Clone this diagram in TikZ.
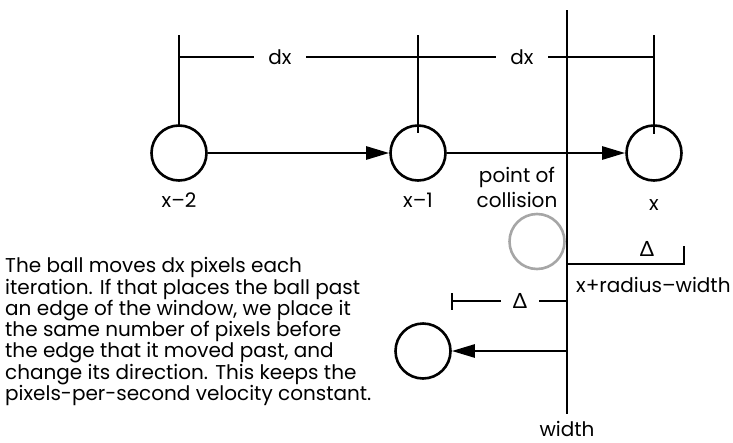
\documentclass[tikz,border=0pt]{standalone}
\usepackage{fontspec}
\setmainfont{Poppins}
\newfontfamily\deltafont{Lato}
\usetikzlibrary{arrows.meta}
\begin{document}
\begin{tikzpicture}[x=1pt,y=-1pt,
  ln/.style={line width=2.6pt},
  ball/.style={circle,draw,line width=2.6pt,minimum size=55pt,inner sep=0pt},
  gball/.style={circle,draw=black!35,line width=2.6pt,minimum size=55pt,inner sep=0pt},
  arr/.style={line width=2.6pt,-{Triangle[length=23pt,width=13pt]}},
  lbl/.style={font=\fontsize{20}{21.3}\selectfont,inner sep=0pt},
  gaplbl/.style={lbl,fill=white,inner xsep=14pt,inner ysep=3pt}]
\useasboundingbox (0,0) rectangle (733,442);
% balls
\node[ball] (b2) at (179,153) {};
\node[ball] (b1) at (418,153) {};
\node[ball] (b0) at (654,153) {};
\node[gball] (gc) at (537,241.5) {};
\node[ball] (bb) at (423,351) {};
% wall
\coordinate (wt) at (567,10);
\coordinate (wb) at (567,414);
\draw[ln] (wt) -- (wb);
% arrows
\draw[arr] (b2) -- (b1);
\draw[arr] (b1) -- (b0);
\coordinate (wr) at (567,351);
\draw[arr] (wr) -- (bb);
% top dimension
\coordinate (t2) at (179,35);
\coordinate (t1) at (418,35);
\coordinate (t0) at (654,35);
\coordinate (d2) at (179,57);
\coordinate (d0) at (654,57);
\draw[ln] (t2) -- ([yshift=-3pt]b2.north);
\draw[ln] (t1) -- ([yshift=-9pt]b1.north);
\draw[ln] (t0) -- ([yshift=-10pt]b0.north);
\draw[ln] (d2) -- (d0);
\node[gaplbl] (dx1) at (280,57) {dx};
\node[gaplbl] (dx2) at (522,57) {dx};
% labels under balls
\node[lbl,anchor=base] (l2) at (179,207) {x–2};
\node[lbl,anchor=base] (l1) at (418,207) {x–1};
\node[lbl,anchor=base] (l0) at (654,210) {x};
\node[lbl,align=center,font=\fontsize{20}{25}\selectfont,anchor=base] (poc) at (517,207) {point of\\collision};
% right delta dimension
\coordinate (r1) at (567,264);
\coordinate (r2) at (684,264);
\coordinate (r3) at (684,246);
\draw[ln] (r1) -- (r2) -- (r3);
\node[lbl,font=\fontsize{21}{21}\deltafont] (dr) at (647,249) {Δ};
\node[lbl,anchor=base west] (xr) at (576,292) {x+radius–width};
% left delta dimension
\coordinate (la) at (452,301);
\coordinate (lb) at (567,301);
\coordinate (lt1) at (452,293);
\coordinate (lt2) at (452,310);
\draw[ln] (la) -- (lb);
\draw[ln] (lt1) -- (lt2);
\node[gaplbl,font=\fontsize{21}{21}\deltafont,inner xsep=12pt] (dl) at (520,301) {Δ};
\node[lbl,anchor=base] (wd) at (567,436) {width};
% description
\node[lbl,align=left,anchor=base west] (txt) at (5,400.5) {The ball moves dx pixels each\\iteration. If that places the ball past\\an edge of the window, we place it\\the same number of pixels before\\the edge that it moved past, and\\change its direction. This keeps the\\pixels-per-second velocity constant.};
\end{tikzpicture}
\end{document}
